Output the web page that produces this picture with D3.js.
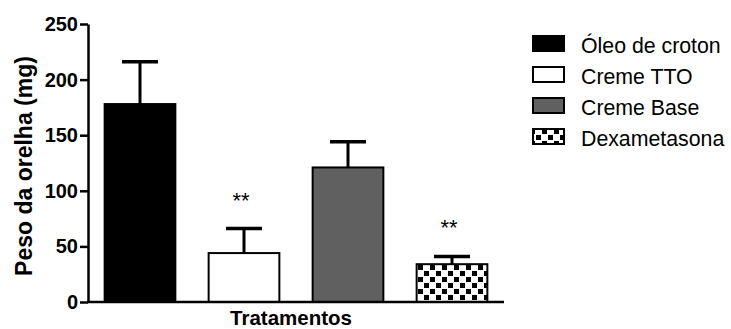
<!DOCTYPE html>
<html>
<head>
<meta charset="utf-8">
<script src="https://cdn.jsdelivr.net/npm/d3@7"></script>
<style>
  html, body { margin: 0; padding: 0; background: #fff; }
  svg { display: block; }
  text { font-family: "Liberation Sans", Arial, sans-serif; fill: #000; }
</style>
</head>
<body>
<script>
// Ear weight per treatment group (mean ± SEM)
const categories = ["Óleo de croton", "Creme TTO", "Creme Base", "Dexametasona"];
const means = [178, 44, 121, 34];
const errors = [38, 22, 23, 7];
const significance = ["", "**", "", "**"];
const yTicks = [0, 50, 100, 150, 200, 250];
const fills = ["#000000", "#ffffff", "#606060", "url(#checker)"];

const W = 731, H = 329;
const svg = d3.select("body").append("svg").attr("width", W).attr("height", H);

// checkerboard fill for the dexamethasone group
const pat = svg.append("defs").append("pattern")
  .attr("id", "checker").attr("patternUnits", "userSpaceOnUse")
  .attr("width", 12).attr("height", 12).attr("x", 105).attr("y", 0);
pat.append("rect").attr("width", 12).attr("height", 12).attr("fill", "#fff");
pat.append("rect").attr("x", 1).attr("y", 1).attr("width", 5).attr("height", 5).attr("fill", "#000");
pat.append("rect").attr("x", 7).attr("y", 7).attr("width", 5).attr("height", 5).attr("fill", "#000");

const x = d3.scaleBand().domain(categories).range([88, 504]).paddingInner(0.32).paddingOuter(0.16);
const y = d3.scaleLinear().domain([0, 250]).range([302, 24]);

const g = svg.append("g");

// bars
g.selectAll("rect.bar").data(categories).join("rect")
  .attr("class", "bar")
  .attr("x", d => x(d))
  .attr("y", (d, i) => y(means[i]))
  .attr("width", x.bandwidth())
  .attr("height", (d, i) => y(0) - y(means[i]))
  .attr("fill", (d, i) => fills[i])
  .attr("stroke", "#000").attr("stroke-width", 2);

// upper error bars
const cap = 36;
g.selectAll("line.err").data(categories).join("line")
  .attr("class", "err")
  .attr("x1", d => x(d) + x.bandwidth() / 2).attr("x2", d => x(d) + x.bandwidth() / 2)
  .attr("y1", (d, i) => y(means[i])).attr("y2", (d, i) => y(means[i] + errors[i]))
  .attr("stroke", "#000").attr("stroke-width", 3);
g.selectAll("line.cap").data(categories).join("line")
  .attr("class", "cap")
  .attr("x1", d => x(d) + x.bandwidth() / 2 - cap / 2).attr("x2", d => x(d) + x.bandwidth() / 2 + cap / 2)
  .attr("y1", (d, i) => y(means[i] + errors[i])).attr("y2", (d, i) => y(means[i] + errors[i]))
  .attr("stroke", "#000").attr("stroke-width", 3.5);

// significance marks
g.selectAll("text.sig").data(categories).join("text")
  .attr("class", "sig")
  .attr("x", d => x(d) + x.bandwidth() / 2 - 3)
  .attr("y", (d, i) => y(means[i] + errors[i]) - 21)
  .attr("text-anchor", "middle")
  .attr("font-size", 22)
  .text((d, i) => significance[i]);

// y axis
const yAxis = g.append("g").attr("transform", "translate(88,0)")
  .call(d3.axisLeft(y).tickValues(yTicks).tickSize(8).tickPadding(2).tickSizeOuter(0));
yAxis.select(".domain").attr("stroke-width", 2.5);
yAxis.selectAll(".tick line").attr("stroke-width", 2.5);
yAxis.selectAll(".tick text").attr("font-size", 20).attr("font-weight", "bold")
  .attr("font-family", "Liberation Sans, Arial, sans-serif").attr("fill", "#000");

// x axis baseline
g.append("line").attr("x1", 87).attr("x2", 504).attr("y1", y(0)).attr("y2", y(0))
  .attr("stroke", "#000").attr("stroke-width", 2.5);

// axis titles
svg.append("text")
  .attr("transform", "translate(32,166) rotate(-90)")
  .attr("text-anchor", "middle").attr("font-size", 23).attr("font-weight", "bold")
  .text("Peso da orelha (mg)");
svg.append("text")
  .attr("x", 291).attr("y", 325)
  .attr("text-anchor", "middle").attr("font-size", 20.5).attr("font-weight", "bold")
  .text("Tratamentos");

// legend
const legend = svg.append("g").attr("transform", "translate(532,35)");
const rows = legend.selectAll("g").data(categories).join("g")
  .attr("transform", (d, i) => `translate(0,${i * 31})`);
rows.append("rect").attr("x", 1).attr("y", 1).attr("width", 31).attr("height", 15)
  .attr("fill", (d, i) => fills[i]).attr("stroke", "#000").attr("stroke-width", 2);
rows.append("text").attr("x", 49).attr("y", 18).attr("font-size", 21.3)
  .text(d => d);
</script>
</body>
</html>
